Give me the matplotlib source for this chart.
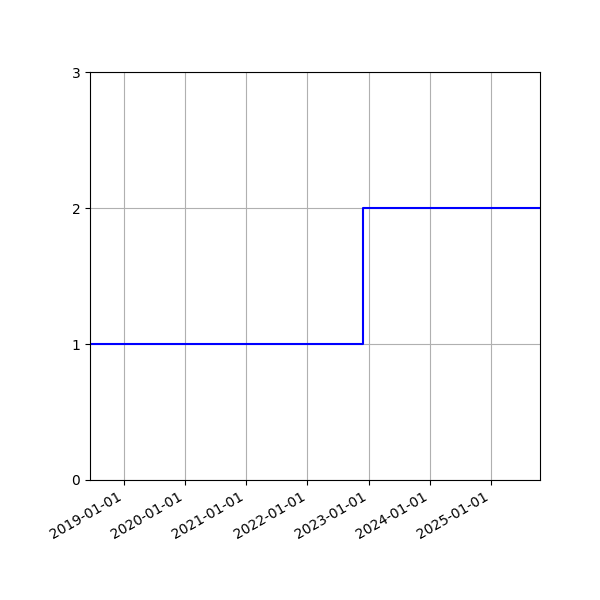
import matplotlib
matplotlib.use("Agg")
import matplotlib.pyplot as plt
import matplotlib.dates as mdates
import numpy as np

dates = np.array(["2018-06-12", "2022-12-01", "2025-10-21"], dtype="datetime64[D]")
values = [1, 2, 2]
yticks = [0, 1, 2, 3]

fig, ax = plt.subplots(figsize=(6, 6), dpi=100)
fig.subplots_adjust(left=0.15, right=0.9, top=0.88, bottom=0.2)
ax.step(dates, values, where="post", color="blue", linewidth=1.5)
ax.set_xlim(dates[0], dates[-1])
ax.set_ylim(0, 3)
ax.set_yticks(yticks)
ax.xaxis.set_major_locator(mdates.YearLocator())
ax.xaxis.set_major_formatter(mdates.DateFormatter("%Y-%m-%d"))
ax.grid(True, color="#b0b0b0")
for lab in ax.get_xticklabels():
    lab.set_rotation(30)
    lab.set_ha("right")
fig.savefig("out.png", dpi=100)
